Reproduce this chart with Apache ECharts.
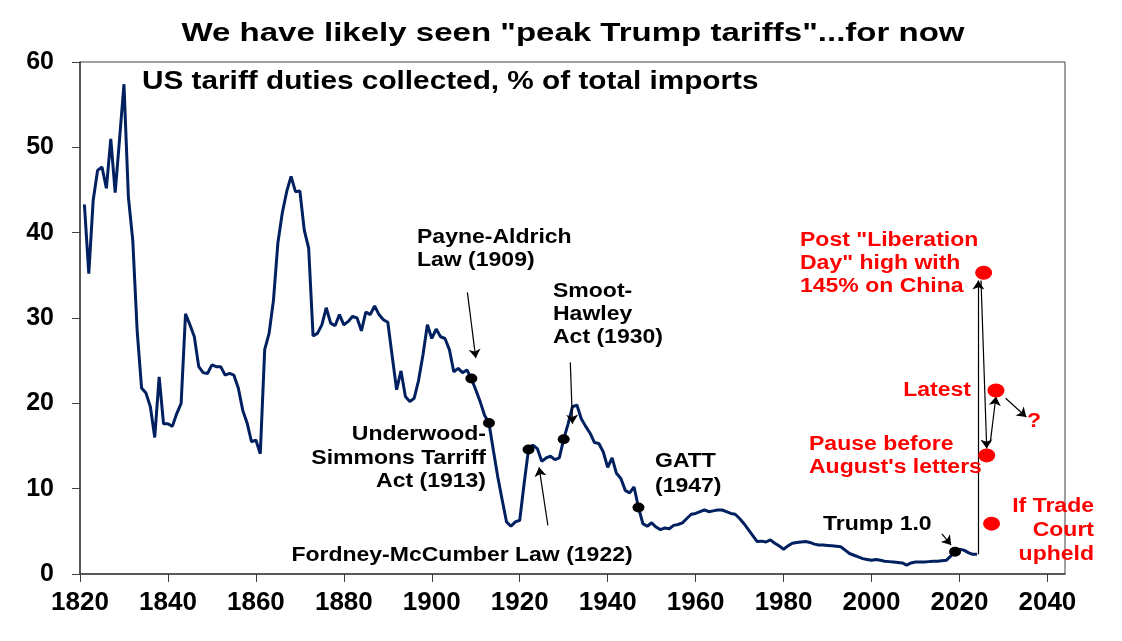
<!DOCTYPE html>
<html lang="en">
<head>
<meta charset="UTF-8">
<title>peak Trump tariffs</title>
<script src="https://cdn.jsdelivr.net/npm/echarts@6/dist/echarts.min.js"></script>
<style>
    html, body { margin: 0; padding: 0; background: #fff; }
    #main { width: 1122px; height: 641px; }
</style>
</head>
<body>
<div id="main"></div>
<script>
// annual series, 1821 - 2024
var firstYear = 1821;
var tariffRate = [
    43.3, 35.2, 43.8, 47.3, 47.7, 45.2, 51.0, 44.7, 51.0, 57.4,
    44.2, 39.1, 28.5, 21.8, 21.2, 19.6, 16.0, 23.1, 17.6, 17.6,
    17.3, 18.8, 20.0, 30.5, 29.2, 27.8, 24.3, 23.6, 23.5, 24.5,
    24.3, 24.3, 23.3, 23.5, 23.3, 21.8, 19.2, 17.7, 15.5, 15.7,
    14.1, 26.3, 28.2, 32.1, 38.8, 42.3, 44.8, 46.6, 44.8, 44.9,
    40.3, 38.2, 27.9, 28.2, 29.2, 31.2, 29.4, 29.1, 30.4, 29.2,
    29.6, 30.2, 30.0, 28.5, 30.7, 30.4, 31.4, 30.4, 29.8, 29.5,
    25.5, 21.6, 23.8, 20.8, 20.2, 20.6, 22.7, 25.7, 29.2, 27.6,
    28.7, 27.8, 27.6, 26.3, 23.7, 24.1, 23.6, 23.9, 22.9, 21.6,
    20.2, 18.6, 17.7, 14.5, 11.4, 8.7, 6.1, 5.6, 6.1, 6.3,
    10.6, 14.6, 15.1, 14.7, 13.2, 13.6, 13.8, 13.4, 13.6, 15.8,
    17.6, 19.6, 19.8, 18.2, 17.3, 16.5, 15.4, 15.3, 14.3, 12.5,
    13.6, 11.8, 11.2, 9.8, 9.5, 10.2, 7.8, 5.9, 5.6, 6.0,
    5.5, 5.2, 5.4, 5.3, 5.7, 5.8, 6.0, 6.5, 7.0, 7.1,
    7.3, 7.5, 7.3, 7.4, 7.5, 7.5, 7.3, 7.1, 7.0, 6.5,
    5.9, 5.2, 4.5, 3.8, 3.85, 3.75, 4.0, 3.6, 3.3, 2.9,
    3.3, 3.6, 3.7, 3.75, 3.8, 3.7, 3.5, 3.4, 3.4, 3.35,
    3.3, 3.25, 3.2, 2.8, 2.4, 2.2, 2.0, 1.8, 1.7, 1.6,
    1.7, 1.6, 1.5, 1.45, 1.4, 1.35, 1.3, 1.05, 1.3, 1.4,
    1.4, 1.4, 1.45, 1.5, 1.5, 1.55, 1.6, 2.1, 2.6, 2.9,
    2.8, 2.5, 2.3, 2.3
];

// tariff laws marked on the line
var eventYears = [1909, 1913, 1922, 1930, 1947, 2019];

// Trump 2.0 scenarios (red dots)
var scenarioNames  = ['Post Liberation Day', 'Pause', 'If Trade Court upheld', 'Latest'];
var scenarioYears  = [2025.5, 2026.2, 2027.3, 2028.3];
var scenarioValues = [35.3, 13.9, 5.9, 21.5];

// annotation arrows: [fromYear, fromValue, toYear, toValue]
var arrowPaths = [
    [1908.1, 33.0, 1910.0, 25.3],   // Payne-Aldrich
    [1931.5, 24.8, 1932.0, 17.6],   // Smoot-Hawley
    [1926.4, 5.7, 1924.4, 12.5],    // Fordney-McCumber
    [2016.0, 4.7, 2018.1, 3.4],     // Trump 1.0
    [2024.3, 2.3, 2024.3, 34.4],    // up to Liberation Day
    [2024.9, 34.4, 2026.2, 14.7],   // down to pause
    [2027.0, 15.4, 2028.3, 20.8],   // up to latest
    [2030.5, 20.6, 2035.2, 18.4]    // latest -> ?
];

var xTickLabels = [1820, 1840, 1860, 1880, 1900, 1920, 1940, 1960, 1980, 2000, 2020, 2040];

var lineData = tariffRate.map(function (v, i) { return [firstYear + i, v]; });
var eventData = eventYears.map(function (y) { return [y, tariffRate[y - firstYear]]; });
var scenarioData = scenarioYears.map(function (y, i) { return [y, scenarioValues[i]]; });
var arrowData = arrowPaths.map(function (a) { return { coords: [[a[0], a[1]], [a[2], a[3]]] }; });

var myChart = echarts.init(document.getElementById('main'));

var FONT = '"Liberation Sans", Arial, sans-serif';

// source picture is stretched sideways, so texts get a scaleX
function label(x, y, text, size, align, vAlign, color, lh, sx) {
    return {
        type: 'text',
        x: x, y: y,
        scaleX: sx || 1.15,
        z: 100,
        style: {
            text: text,
            font: 'bold ' + size + 'px ' + FONT,
            fill: color || '#000',
            align: align, textAlign: align,
            verticalAlign: vAlign, textVerticalAlign: vAlign,
            lineHeight: lh || size
        }
    };
}

var option = {
    animation: false,
    backgroundColor: '#fff',
    grid: {
        left: 80, right: 57, top: 62, bottom: 67,
        show: true, borderColor: '#404040', borderWidth: 1
    },
    xAxis: {
        type: 'value',
        min: 1820, max: 2044, interval: 20,
        splitLine: { show: false },
        axisLine: { onZero: false, lineStyle: { color: '#404040', width: 1.5 } },
        axisTick: { length: 8, lineStyle: { color: '#404040' }, customValues: xTickLabels },
        axisLabel: {
            customValues: xTickLabels,
            formatter: function (v) { return String(v); },
            color: '#000', fontFamily: FONT, fontWeight: 'bold', fontSize: 26, margin: 16
        }
    },
    yAxis: {
        type: 'value',
        min: 0, max: 60, interval: 10,
        splitLine: { show: false },
        axisLine: { show: true, lineStyle: { color: '#404040', width: 1.5 } },
        axisTick: { show: true, length: 8, lineStyle: { color: '#404040' } },
        axisLabel: { color: '#000', fontFamily: FONT, fontWeight: 'bold', fontSize: 25, margin: 26 }
    },
    series: [
        {
            name: 'tariff',
            type: 'line',
            data: lineData,
            showSymbol: false,
            lineStyle: { color: '#002060', width: 3 },
            z: 3
        },
        {
            name: 'events',
            type: 'scatter',
            data: eventData,
            symbolSize: [12, 10],
            itemStyle: { color: '#000', opacity: 1 },
            z: 5
        },
        {
            name: 'scenarios',
            type: 'scatter',
            data: scenarioData,
            symbolSize: [17, 14],
            itemStyle: { color: '#ff0000', opacity: 1 },
            z: 5
        },
        {
            name: 'arrows',
            type: 'lines',
            coordinateSystem: 'cartesian2d',
            data: arrowData,
            symbol: ['none', 'arrow'],
            symbolSize: 9,
            lineStyle: { color: '#000', width: 1.2, opacity: 1 },
            z: 4
        }
    ],
    graphic: [
        label(573, 34, 'We have likely seen "peak Trump tariffs"...for now', 26, 'center', 'middle', '#000', 26, 1.27),
        label(142, 82, 'US tariff duties collected, % of total imports', 25, 'left', 'middle', '#000', 25, 1.19),
        label(417, 226, 'Payne-Aldrich\nLaw (1909)', 20, 'left', 'top', '#000', 23),
        label(553, 280, 'Smoot-\nHawley\nAct (1930)', 20, 'left', 'top', '#000', 23),
        label(486, 423, 'Underwood-\nSimmons Tarriff\nAct (1913)', 20, 'right', 'top', '#000', 23.5),
        label(655, 449, 'GATT\n(1947)', 20, 'left', 'top', '#000', 25),
        label(462, 555, 'Fordney-McCumber Law (1922)', 20, 'center', 'middle'),
        label(823, 524, 'Trump 1.0', 20, 'left', 'middle'),
        label(800, 229, 'Post "Liberation\nDay" high with\n145% on China', 20, 'left', 'top', '#ff0000', 23),
        label(971, 390, 'Latest', 20, 'right', 'middle', '#ff0000'),
        label(1034, 421, '?', 20, 'center', 'middle', '#ff0000'),
        label(809, 433, 'Pause before\nAugust\'s letters', 20, 'left', 'top', '#ff0000', 23),
        label(1094, 494, 'If Trade\nCourt\nupheld', 20, 'right', 'top', '#ff0000', 24)
    ]
};

myChart.setOption(option);
</script>
</body>
</html>
